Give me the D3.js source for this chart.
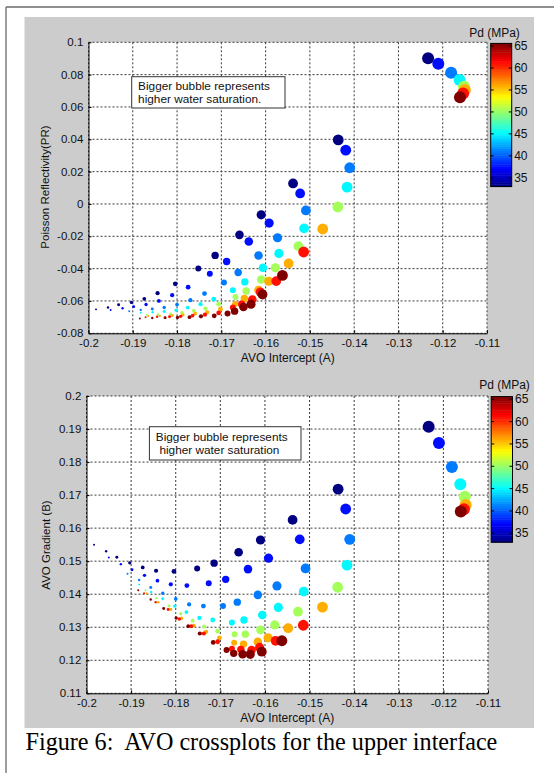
<!DOCTYPE html>
<html>
<head>
<meta charset="utf-8">
<script src="https://cdn.jsdelivr.net/npm/d3@7"></script>
<style>
  html, body { margin: 0; padding: 0; background: #ffffff; }
  svg { display: block; }
</style>
</head>
<body>
<div id="chart"></div>
<script>
// ---------------- DATA ----------------
// Differential pressure levels (colour), one column per level
const pdLevels = [33, 37.5, 41, 45, 50.5, 56, 61, 65.6];
// Relative bubble area per saturation row (bigger = higher water saturation)
const bubbleArea = [113, 92, 75, 66, 58, 43, 28, 18, 14, 11, 9, 7, 4.5, 3.1];

// AVO intercept A : rows = saturation rows (same order as bubbleArea), cols = pdLevels
const intercept = [
  [-0.1233, -0.1210, -0.1181, -0.1162, -0.1152, -0.1150, -0.1154, -0.1161],
  [-0.1436, -0.1419, -0.1410, -0.1416, -0.1437, -0.1471, -0.1514, -0.1562],
  [-0.1538, -0.1522, -0.1509, -0.1513, -0.1526, -0.1548, -0.1576, -0.1607],
  [-0.1610, -0.1592, -0.1573, -0.1570, -0.1578, -0.1593, -0.1612, -0.1633],
  [-0.1659, -0.1638, -0.1616, -0.1606, -0.1610, -0.1616, -0.1630, -0.1650],
  [-0.1714, -0.1688, -0.1662, -0.1647, -0.1644, -0.1648, -0.1654, -0.1670],
  [-0.1752, -0.1726, -0.1694, -0.1674, -0.1668, -0.1669, -0.1674, -0.1686],
  [-0.1804, -0.1775, -0.1738, -0.1717, -0.1706, -0.1702, -0.1706, -0.1716],
  [-0.1844, -0.1811, -0.1770, -0.1747, -0.1736, -0.1732, -0.1737, -0.1746],
  [-0.1874, -0.1841, -0.1800, -0.1776, -0.1762, -0.1759, -0.1765, -0.1772],
  [-0.1903, -0.1870, -0.1829, -0.1802, -0.1789, -0.1787, -0.1792, -0.1799],
  [-0.1932, -0.1898, -0.1856, -0.1829, -0.1815, -0.1811, -0.1817, -0.1827],
  [-0.1956, -0.1923, -0.1882, -0.1855, -0.1843, -0.1839, -0.1845, -0.1856],
  [-0.1983, -0.1950, -0.1908, -0.1882, -0.1868, -0.1865, -0.1871, -0.1884]
];

// Poisson reflectivity PR (upper plot)
const poissonRefl = [
  [ 0.0901,  0.0868,  0.0812,  0.0767,  0.0725,  0.0705,  0.0684,  0.0660],
  [ 0.0396,  0.0333,  0.0224,  0.0104, -0.0019, -0.0155, -0.0297, -0.0442],
  [ 0.0127,  0.0065, -0.0040, -0.0151, -0.0261, -0.0368, -0.0477, -0.0560],
  [-0.0067, -0.0118, -0.0209, -0.0306, -0.0395, -0.0478, -0.0545, -0.0620],
  [-0.0191, -0.0232, -0.0319, -0.0395, -0.0467, -0.0533, -0.0591, -0.0637],
  [-0.0318, -0.0356, -0.0424, -0.0482, -0.0538, -0.0585, -0.0620, -0.0663],
  [-0.0399, -0.0432, -0.0486, -0.0533, -0.0575, -0.0618, -0.0640, -0.0678],
  [-0.0494, -0.0515, -0.0554, -0.0589, -0.0620, -0.0651, -0.0674, -0.0692],
  [-0.0552, -0.0564, -0.0595, -0.0620, -0.0647, -0.0670, -0.0685, -0.0695],
  [-0.0587, -0.0600, -0.0622, -0.0641, -0.0660, -0.0678, -0.0690, -0.0700],
  [-0.0609, -0.0622, -0.0640, -0.0657, -0.0673, -0.0686, -0.0695, -0.0702],
  [-0.0624, -0.0635, -0.0650, -0.0665, -0.0680, -0.0690, -0.0697, -0.0704],
  [-0.0640, -0.0645, -0.0655, -0.0670, -0.0683, -0.0692, -0.0698, -0.0705],
  [-0.0652, -0.0656, -0.0663, -0.0673, -0.0685, -0.0693, -0.0700, -0.0708]
];

// AVO gradient B (lower plot)
const gradient = [
  [0.1907, 0.1858, 0.1785, 0.1733, 0.1695, 0.1670, 0.1657, 0.1650],
  [0.1718, 0.1658, 0.1566, 0.1488, 0.1421, 0.1361, 0.1306, 0.1259],
  [0.1625, 0.1566, 0.1478, 0.1408, 0.1347, 0.1297, 0.1259, 0.1226],
  [0.1564, 0.1509, 0.1425, 0.1360, 0.1307, 0.1268, 0.1239, 0.1218],
  [0.1527, 0.1476, 0.1398, 0.1337, 0.1292, 0.1256, 0.1231, 0.1218],
  [0.1494, 0.1445, 0.1376, 0.1322, 0.1279, 0.1249, 0.1233, 0.1221],
  [0.1478, 0.1433, 0.1364, 0.1314, 0.1279, 0.1253, 0.1235, 0.1231],
  [0.1469, 0.1426, 0.1364, 0.1322, 0.1288, 0.1268, 0.1256, 0.1254],
  [0.1471, 0.1430, 0.1369, 0.1328, 0.1302, 0.1286, 0.1281, 0.1281],
  [0.1481, 0.1441, 0.1386, 0.1346, 0.1320, 0.1305, 0.1303, 0.1303],
  [0.1495, 0.1457, 0.1403, 0.1364, 0.1341, 0.1327, 0.1325, 0.1328],
  [0.1512, 0.1474, 0.1420, 0.1386, 0.1364, 0.1354, 0.1354, 0.1357],
  [0.1530, 0.1491, 0.1443, 0.1407, 0.1388, 0.1376, 0.1376, 0.1384],
  [0.1550, 0.1511, 0.1462, 0.1429, 0.1412, 0.1403, 0.1403, 0.1412]
];

// Ticks and labels
const xTicks  = [-0.2, -0.19, -0.18, -0.17, -0.16, -0.15, -0.14, -0.13, -0.12, -0.11];
const xLabels = ["-0.2", "-0.19", "-0.18", "-0.17", "-0.16", "-0.15", "-0.14", "-0.13", "-0.12", "-0.11"];
const prTicks  = [-0.08, -0.06, -0.04, -0.02, 0, 0.02, 0.04, 0.06, 0.08, 0.1];
const prLabels = ["-0.08", "-0.06", "-0.04", "-0.02", "0", "0.02", "0.04", "0.06", "0.08", "0.1"];
const gTicks  = [0.11, 0.12, 0.13, 0.14, 0.15, 0.16, 0.17, 0.18, 0.19, 0.2];
const gLabels = ["0.11", "0.12", "0.13", "0.14", "0.15", "0.16", "0.17", "0.18", "0.19", "0.2"];
const cbTicks = [35, 40, 45, 50, 55, 60, 65];
const pdRange = [33, 65.6];

// ---------------- DRAWING ----------------
const W = 554, H = 773;
const FONT = "'Liberation Sans', Arial, Helvetica, sans-serif";
const svg = d3.select("#chart").append("svg").attr("width", W).attr("height", H)
  .attr("viewBox", `0 0 ${W} ${H}`);

// page frame
svg.append("line").attr("x1", 6).attr("y1", 7).attr("x2", 6).attr("y2", H)
  .attr("stroke", "#6a6a6a").attr("stroke-width", 1.3);
svg.append("line").attr("x1", 6).attr("y1", 7).attr("x2", W).attr("y2", 7)
  .attr("stroke", "#6a6a6a").attr("stroke-width", 1.3);

// figure background
svg.append("rect").attr("x", 24.5).attr("y", 17).attr("width", 509.5).attr("height", 711)
  .attr("fill", "#cccccc");

// jet colormap
const jet = d3.scaleLinear()
  .domain([0, 0.125, 0.375, 0.625, 0.875, 1].map(t => pdRange[0] + t * (pdRange[1] - pdRange[0])))
  .range(["#000080", "#0000ff", "#00ffff", "#ffff00", "#ff0000", "#800000"])
  .interpolate(d3.interpolateRgb)
  .clamp(true);

const rScale = d3.scaleSqrt().domain([0, d3.max(bubbleArea)]).range([0, 6]);

// flat point list
const points = [];
pdLevels.forEach((pd, j) => {
  bubbleArea.forEach((area, i) => {
    points.push({ A: intercept[i][j], PR: poissonRefl[i][j], B: gradient[i][j], pd, area });
  });
});

function drawPlot(cfg) {
  const g = svg.append("g");
  const x = d3.scaleLinear().domain([-0.2, -0.11]).range([cfg.left, cfg.right]);
  const y = d3.scaleLinear().domain(cfg.yDomain).range([cfg.bottom, cfg.top]);

  g.append("rect").attr("x", cfg.left).attr("y", cfg.top)
    .attr("width", cfg.right - cfg.left).attr("height", cfg.bottom - cfg.top)
    .attr("fill", "#ffffff");

  // dotted grid
  const grid = g.append("g").attr("stroke", "#3a3a3a").attr("stroke-width", 1)
    .attr("stroke-dasharray", "2,2").attr("fill", "none");
  xTicks.forEach(t => grid.append("line")
    .attr("x1", x(t)).attr("x2", x(t)).attr("y1", cfg.top).attr("y2", cfg.bottom));
  cfg.yTicks.forEach(t => grid.append("line")
    .attr("x1", cfg.left).attr("x2", cfg.right).attr("y1", y(t)).attr("y2", y(t)));

  // bubbles
  g.append("g").selectAll("circle").data(points).join("circle")
    .attr("cx", d => x(d.A))
    .attr("cy", d => y(d[cfg.key]))
    .attr("r", d => rScale(d.area))
    .attr("fill", d => jet(d.pd));

  // axes (ticks point inward, as in the reference)
  const xAxis = d3.axisBottom(x).tickValues(xTicks)
    .tickFormat((d, i) => xLabels[i]).tickSize(-3).tickSizeOuter(0).tickPadding(5.5);
  const yAxis = d3.axisLeft(y).tickValues(cfg.yTicks)
    .tickFormat((d, i) => cfg.yLabels[i]).tickSize(-3).tickSizeOuter(0).tickPadding(5.2);
  const gx = g.append("g").attr("transform", `translate(0,${cfg.bottom})`).call(xAxis);
  const gy = g.append("g").attr("transform", `translate(${cfg.left},0)`).call(yAxis);
  [gx, gy].forEach(a => {
    a.selectAll("text").attr("font-family", FONT).attr("font-size", 11.5).attr("fill", "#111");
    a.selectAll("line").attr("stroke", "#000");
    a.select(".domain").attr("stroke", "#000").attr("stroke-width", 1);
  });

  // axis titles
  g.append("text").attr("x", (cfg.left + cfg.right) / 2).attr("y", cfg.xTitleY)
    .attr("text-anchor", "middle").attr("font-family", FONT).attr("font-size", 12)
    .attr("fill", "#111").text("AVO Intercept (A)");
  g.append("text").attr("transform", `translate(${cfg.yTitleX},${cfg.yTitleY}) rotate(-90)`)
    .attr("text-anchor", "middle").attr("font-family", FONT).attr("font-size", 11.5)
    .attr("fill", "#111").text(cfg.yTitle);

  // annotation box
  const b = cfg.box;
  g.append("rect").attr("x", b.x).attr("y", b.y).attr("width", b.w).attr("height", b.h)
    .attr("fill", "#ffffff").attr("stroke", "#333").attr("stroke-width", 1);
  b.lines.forEach((s, i) => g.append("text")
    .attr("x", b.tx[i]).attr("y", b.ty[i]).attr("font-family", FONT).attr("font-size", 11.8)
    .attr("fill", "#111").text(s));

  // colorbar
  const c = cfg.cb;
  const cy = d3.scaleLinear().domain(pdRange).range([c.y1, c.y0]);
  const nBins = 64;
  const step = (pdRange[1] - pdRange[0]) / nBins;
  const bins = d3.range(nBins).map(k => pdRange[0] + k * step);
  g.append("g").selectAll("rect").data(bins).join("rect")
    .attr("x", c.x0).attr("width", c.x1 - c.x0)
    .attr("y", d => cy(d + step)).attr("height", d => cy(d) - cy(d + step) + 0.4)
    .attr("fill", d => jet(d + step / 2));
  g.append("rect").attr("x", c.x0).attr("y", c.y0).attr("width", c.x1 - c.x0)
    .attr("height", c.y1 - c.y0).attr("fill", "none").attr("stroke", "#000").attr("stroke-width", 1);
  cbTicks.forEach(t => {
    g.append("line").attr("x1", c.x1 - 3).attr("x2", c.x1).attr("y1", cy(t)).attr("y2", cy(t))
      .attr("stroke", "#000");
    g.append("line").attr("x1", c.x0).attr("x2", c.x0 + 3).attr("y1", cy(t)).attr("y2", cy(t))
      .attr("stroke", "#000");
    g.append("text").attr("x", c.x1 + 2.5).attr("y", cy(t)).attr("dy", "0.35em")
      .attr("font-family", FONT).attr("font-size", 12).attr("fill", "#111").text(String(t));
  });
  g.append("text").attr("x", c.titleX).attr("y", c.titleY).attr("text-anchor", "middle")
    .attr("font-family", FONT).attr("font-size", 12).attr("fill", "#111").text("Pd (MPa)");
}

drawPlot({
  left: 88.5, right: 487, top: 42.3, bottom: 333.3,
  yDomain: [-0.08, 0.1], yTicks: prTicks, yLabels: prLabels, key: "PR",
  yTitle: "Poisson Reflectivity(PR)", yTitleX: 48.5, yTitleY: 187,
  xTitleY: 362,
  box: { x: 131.7, y: 76.7, w: 153.3, h: 31.3,
         lines: ["Bigger bubble represents", "higher water saturation."],
         tx: [138.1, 138.1], ty: [90, 103] },
  cb: { x0: 490.7, x1: 511.7, y0: 43.4, y1: 186.6, titleX: 494.5, titleY: 36.5 }
});

drawPlot({
  left: 86.5, right: 488, top: 396, bottom: 693.3,
  yDomain: [0.11, 0.2], yTicks: gTicks, yLabels: gLabels, key: "B",
  yTitle: "AVO Gradient (B)", yTitleX: 50, yTitleY: 545,
  xTitleY: 722,
  box: { x: 149.4, y: 426.7, w: 151.6, h: 33.3,
         lines: ["Bigger bubble represents", "higher water saturation"],
         tx: [155.8, 159.4], ty: [440.5, 453.5] },
  cb: { x0: 491.2, x1: 512.5, y0: 396.6, y1: 542.2, titleX: 504.5, titleY: 389 }
});

// caption
const cap = svg.append("text").attr("x", 25.5).attr("y", 750)
  .attr("font-family", "'Liberation Serif', 'Times New Roman', serif")
  .attr("font-size", 24).attr("fill", "#000")
  .attr("xml:space", "preserve").style("white-space", "pre")
  .text("Figure 6:  AVO crossplots for the upper interface");
const w = cap.node().getComputedTextLength();
if (w > 0) cap.attr("font-size", 24 * 472 / w);
</script>
</body>
</html>
